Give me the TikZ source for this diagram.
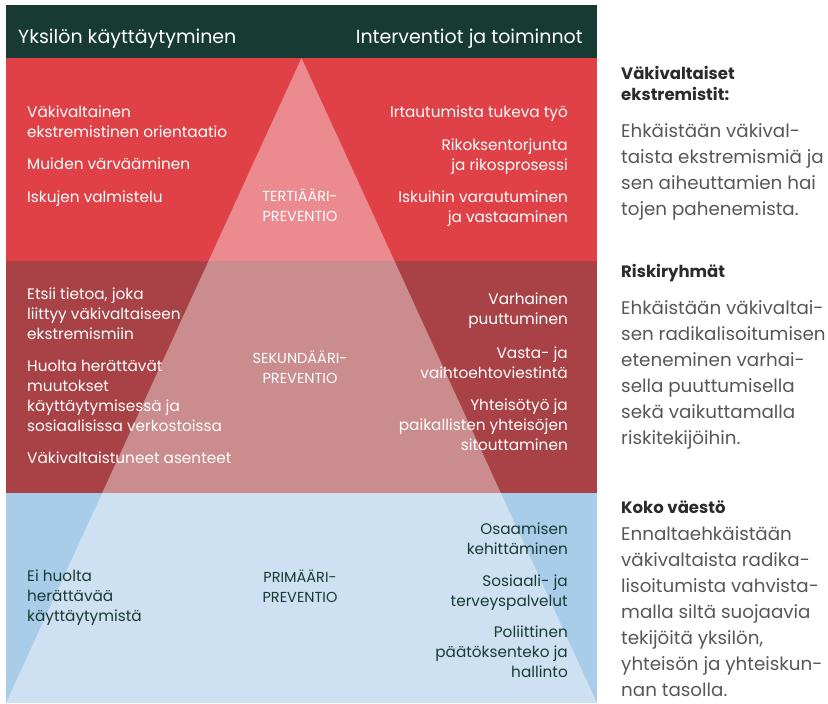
\documentclass[tikz,border=0pt]{standalone}
\usepackage{fontspec}
\setmainfont{Poppins}
\definecolor{hdr}{HTML}{173B33}
\definecolor{redA}{HTML}{E04146}
\definecolor{redAt}{HTML}{EC8B8F}
\definecolor{redB}{HTML}{A94246}
\definecolor{redBt}{HTML}{CB8C8E}
\definecolor{blueC}{HTML}{A9CDE9}
\definecolor{blueCt}{HTML}{CDE1F2}
\definecolor{bodygray}{HTML}{575757}
\definecolor{headgray}{HTML}{2B2B2B}
\tikzset{
  hdrtext/.style={text=white,inner sep=0pt,font=\fontsize{19}{22}\selectfont},
  lefttext/.style={anchor=base west,align=left,inner sep=0pt,font=\fontsize{15.3}{20}\selectfont},
  righttext/.style={anchor=base east,align=right,inner sep=0pt,font=\fontsize{15.3}{20}\selectfont},
  centertext/.style={anchor=base,align=center,inner sep=0pt,font=\fontsize{14.5}{20}\selectfont},
  sidehead/.style={anchor=base west,align=left,inner sep=0pt,text=headgray,font=\fontsize{16.5}{21}\selectfont\bfseries},
  sidebody/.style={anchor=base west,align=left,inner sep=0pt,text=bodygray,font=\fontsize{18.3}{26}\selectfont},
}
\begin{document}
\begin{tikzpicture}[x=1pt,y=-1pt]
\useasboundingbox (0,0) rectangle (828,704);
% bands
\fill[hdr] (6,5) rectangle (597,58);
\fill[redA] (6,58) rectangle (597,261);
\fill[redB] (6,261) rectangle (597,493);
\fill[blueC] (6,493) rectangle (597,703);
\coordinate (apex) at (301.5,58);
\coordinate (bl) at (6,703);
\coordinate (br) at (597,703);
\begin{scope}
  \clip (6,58) rectangle (597,261);
  \fill[redAt] (apex) -- (bl) -- (br) -- cycle;
\end{scope}
\begin{scope}
  \clip (6,261) rectangle (597,493);
  \fill[redBt] (apex) -- (bl) -- (br) -- cycle;
\end{scope}
\begin{scope}
  \clip (6,493) rectangle (597,703);
  \fill[blueCt] (apex) -- (bl) -- (br) -- cycle;
\end{scope}
% header
\node[hdrtext,anchor=base west] (h1) at (18,43) {Yksilön käyttäytyminen};
\node[hdrtext,anchor=base east] (h2) at (583,43) {Interventiot ja toiminnot};
% top band (anchors at baseline of the last line)
\node[lefttext,text=white] (t1) at (27,137) {Väkivaltainen\\ekstremistinen orientaatio};
\node[lefttext,text=white] (t2) at (27,169) {Muiden värvääminen};
\node[lefttext,text=white] (t3) at (27,202) {Iskujen valmistelu};
\node[centertext,text=white] (tc) at (300,221) {TERTIÄÄRI-\\PREVENTIO};
\node[righttext,text=white] (r1) at (568,117) {Irtautumista tukeva työ};
\node[righttext,text=white] (r2) at (568,170) {Rikoksentorjunta\\ja rikosprosessi};
\node[righttext,text=white] (r3) at (568,222) {Iskuihin varautuminen\\ja vastaaminen};
% middle band
\node[lefttext,text=white] (m1) at (27,339) {Etsii tietoa, joka\\liittyy väkivaltaiseen\\ekstremismiin};
\node[lefttext,text=white] (m2) at (27,431) {Huolta herättävät\\muutokset\\käyttäytymisessä ja\\sosiaalisissa verkostoissa};
\node[lefttext,text=white] (m3) at (27,463) {Väkivaltaistuneet asenteet};
\node[centertext,text=white] (mc) at (300,383) {SEKUNDÄÄRI-\\PREVENTIO};
\node[righttext,text=white] (n1) at (568,324) {Varhainen\\puuttuminen};
\node[righttext,text=white] (n2) at (568,378) {Vasta- ja\\vaihtoehtoviestintä};
\node[righttext,text=white] (n3) at (568,450) {Yhteisötyö ja\\paikallisten yhteisöjen\\sitouttaminen};
% bottom band
\node[lefttext,text=hdr] (b1) at (27,621) {Ei huolta\\herättävää\\käyttäytymistä};
\node[centertext,text=hdr] (bc) at (300,602) {PRIMÄÄRI-\\PREVENTIO};
\node[righttext,text=hdr] (p1) at (568,554) {Osaamisen\\kehittäminen};
\node[righttext,text=hdr] (p2) at (568,606) {Sosiaali- ja\\terveyspalvelut};
\node[righttext,text=hdr] (p3) at (568,677) {Poliittinen\\päätöksenteko ja\\hallinto};
% side column
\node[sidehead] (s1) at (621,100) {Väkivaltaiset\\ekstremistit:};
\node[sidebody] (s2) at (621,215) {Ehkäistään väkival-\\taista ekstremismiä ja\\sen aiheuttamien hai\\tojen pahenemista.};
\node[sidehead] (s3) at (621,277) {Riskiryhmät};
\node[sidebody] (s4) at (621,444) {Ehkäistään väkivaltai-\\sen radikalisoitumisen\\eteneminen varhai-\\sella puuttumisella\\sekä vaikuttamalla\\riskitekijöihin.};
\node[sidehead] (s5) at (621,513) {Koko väestö};
\node[sidebody] (s6) at (621,696) {Ennaltaehkäistään\\väkivaltaista radika-\\lisoitumista vahvista-\\malla siltä suojaavia\\tekijöitä yksilön,\\yhteisön ja yhteiskun-\\nan tasolla.};
\end{tikzpicture}
\end{document}
